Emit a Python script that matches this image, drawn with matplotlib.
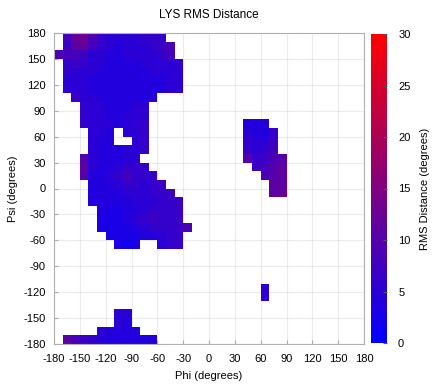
import numpy as np
import matplotlib
matplotlib.use("Agg")
import matplotlib.pyplot as plt
from matplotlib.colors import LinearSegmentedColormap

plt.rcParams['font.family'] = ['Liberation Sans', 'DejaVu Sans']
plt.rcParams['axes.unicode_minus'] = False

title = "LYS RMS Distance"
x_label = "Phi (degrees)"
y_label = "Psi (degrees)"
cbar_label = "RMS Distance (degrees)"
tick_values = [-180, -150, -120, -90, -60, -30, 0, 30, 60, 90, 120, 150, 180]
cbar_ticks = [0, 5, 10, 15, 20, 25, 30]
bin_size = 10
nan = np.nan

# each entry: psi bin start, phi bin start of first cell, values for consecutive phi bins
psi_rows = [170, 160, 150, 140, 130, 120, 110, 100, 90, 80, 70, 60, 50, 40, 30, 20, 10,
            0, -10, -20, -30, -40, -50, -60, -70, -70,
            -150, -160, -170, -180,
            70, 60, 50, 40, 30, 20, 10, 0, -10,
            -120, -130]
phi_starts = [-170, -170, -180, -170, -170, -170, -170, -160, -150, -150, -150, -140, -140, -140, -150, -150, -150,
              -140, -140, -140, -130, -130, -130, -120, -110, -60,
              -110, -110, -130, -170,
              40, 40, 40, 40, 40, 50, 60, 70, 70,
              60, 60]
row_values = [
    [8, 12, 13, 9, 6, 5, 5, 5, 5, 6, 6, 6],
    [7, 11, 12, 8, 6, 5, 4, 5, 5, 5, 6, 7, 9],
    [9, 8, 8, 7, 5, 5, 4, 4, 5, 5, 5, 5, 6, 8],
    [6, 7, 6, 5, 5, 4, 4, 4, 4, 5, 5, 5, 5, 6],
    [6, 5, 5, 5, 4, 4, 4, 4, 4, 4, 5, 5, 5, 5],
    [5, 5, 5, 4, 4, 4, 4, 4, 4, 4, 4, 4, 5, 5],
    [5, 5, 5, 4, 4, 4, 4, 4, 4, 4, 4, 4, 5, 5],
    [7, 5, 5, 4, 4, 4, 4, 4, 4, 5],
    [6, 5, 5, 4, 4, 4, 5, 5],
    [6, 5, 5, 4, 4, 5, 5, 5],
    [6, 5, 5, 5, 4, 5, 5, 6],
    [5, 5, 4, nan, 5, 5, 6],
    [5, 4, 4, nan, nan, 5, 6],
    [5, 4, 4, 4, 5, 5, 6],
    [10, 5, 4, 4, 4, 5, 5],
    [11, 5, 4, 4, 5, 6, 6, 6],
    [10, 4, 4, 5, 6, 8, 6, 6, 6],
    [4, 4, 4, 5, 6, 6, 5, 6, 7],
    [4, 4, 4, 4, 5, 5, 5, 6, 6, 7],
    [4, 4, 4, 4, 4, 5, 5, 5, 6, 6, 7],
    [4, 3, 3, 4, 4, 5, 6, 6, 6, 7],
    [3, 3, 3, 4, 5, 6, 7, 6, 6, 7],
    [3, 3, 3, 3, 4, 5, 6, 6, 6, 7, 9],
    [3, 3, 3, 3, 4, 4, 5, 6, 6],
    [3, 2, 3],
    [5, 6, 6],
    [5, 5],
    [5, 4],
    [5, 4, 4, 4, 4],
    [11, 8, 7, 6, 5, 4, 4, 4, 4, 4, 4],
    [4, 4, 4],
    [5, 4, 4, 6],
    [6, 5, 5, 7],
    [6, 5, 6, 8],
    [10, 6, 7, 9, 10],
    [7, 8, 10, 11],
    [9, 10, 11],
    [11, 11],
    [11, 12],
    [5],
    [5],
]

edges = np.arange(-180, 180 + bin_size, bin_size)
grid = np.full((len(edges) - 1, len(edges) - 1), np.nan)
for psi, phi0, vals in zip(psi_rows, phi_starts, row_values):
    r = (psi + 180) // bin_size
    c0 = (phi0 + 180) // bin_size
    for k, v in enumerate(vals):
        grid[r, c0 + k] = v

cmap = LinearSegmentedColormap.from_list("br", [(0, 0, 1), (1, 0, 0)])

fig = plt.figure(figsize=(4.4, 3.87), dpi=100)
ax = fig.add_axes([54 / 440, 43 / 387, 310 / 440, 311 / 387])
cax = fig.add_axes([371 / 440, 44 / 387, 16 / 440, 309 / 387])

mesh = ax.pcolormesh(edges, edges, grid, cmap=cmap, vmin=0, vmax=30, zorder=2)
ax.grid(True, color='#d8d8d8', linewidth=0.8, alpha=0.5, zorder=3)
ax.set_xlim(-180, 180)
ax.set_ylim(-180, 180)
ax.set_xticks(tick_values)
ax.set_yticks(tick_values)
ax.tick_params(labelsize=8, direction='in', length=3, color='#aaaaaa', pad=7)
ax.tick_params(axis='y', pad=6)
for s in ax.spines.values():
    s.set_color('#b0b0b0')
    s.set_linewidth(0.8)
    s.set_zorder(4)
ax.set_xlabel(x_label, fontsize=8, labelpad=5)
ax.set_ylabel(y_label, fontsize=8, labelpad=4)
ax.set_title(title, fontsize=8.5, pad=11)

cb = fig.colorbar(mesh, cax=cax, ticks=cbar_ticks)
cb.outline.set_visible(False)
cb.ax.tick_params(labelsize=8, direction='in', length=3, color='#555555', pad=8)
cb.set_label(cbar_label, fontsize=8, labelpad=7)

fig.savefig("out.png", dpi=100)
